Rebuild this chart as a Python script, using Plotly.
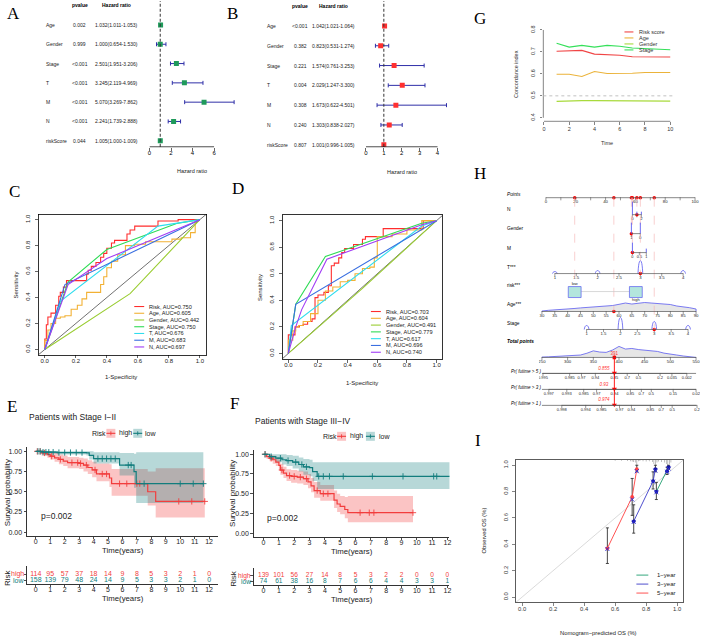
import numpy as np
import plotly.graph_objects as go

W, HGT = 708, 638
SANS = "Liberation Sans, Arial, Helvetica, sans-serif"
SERIF = "Liberation Serif, Times New Roman, serif"

# ======================= DATA =======================
# A / B : Cox regression forest plots
cox_vars = ["Age", "Gender", "Stage", "T", "M", "N", "riskScore"]
uni_pvalue = ["0.002", "0.999", "<0.001", "<0.001", "<0.001", "<0.001", "0.044"]
uni_hr = [1.032, 1.000, 2.501, 3.245, 5.070, 2.241, 1.005]
uni_low = [1.011, 0.654, 1.951, 2.119, 3.269, 1.739, 1.000]
uni_high = [1.053, 1.530, 3.206, 4.969, 7.862, 2.888, 1.009]
uni_ticks = [0, 2, 4, 6]
multi_pvalue = ["<0.001", "0.382", "0.221", "0.004", "0.308", "0.240", "0.807"]
multi_hr = [1.042, 0.823, 1.574, 2.029, 1.673, 1.303, 1.001]
multi_low = [1.021, 0.531, 0.761, 1.247, 0.622, 0.838, 0.996]
multi_high = [1.064, 1.274, 3.253, 3.300, 4.501, 2.027, 1.005]
multi_ticks = [0, 1, 2, 3, 4]

# G : concordance index over time
cindex_time = [1, 2, 3, 4, 5, 6, 7, 8, 9, 10]
cindex_risk = [0.703, 0.705, 0.707, 0.690, 0.687, 0.685, 0.678, 0.678, 0.678, 0.677]
cindex_age = [0.598, 0.598, 0.588, 0.611, 0.602, 0.602, 0.603, 0.606, 0.606, 0.606]
cindex_gender = [0.475, 0.478, 0.478, 0.478, 0.478, 0.478, 0.478, 0.478, 0.478, 0.476]
cindex_stage = [0.740, 0.722, 0.730, 0.722, 0.730, 0.726, 0.718, 0.715, 0.710, 0.710]
cindex_names = ["Risk score", "Age", "Gender", "Stage"]

# C : ROC curves (training)
c_risk_fpr = [0, 0.01, 0.02, 0.04, 0.07, 0.09, 0.10, 0.12, 0.14, 0.16, 0.27, 0.28, 0.30, 0.33, 0.36, 0.38, 0.40, 0.43, 0.45, 0.53, 0.55, 0.58, 0.73, 0.86, 0.98, 1.0]
c_risk_tpr = [0, 0.08, 0.19, 0.25, 0.28, 0.34, 0.41, 0.44, 0.48, 0.53, 0.53, 0.58, 0.61, 0.64, 0.67, 0.71, 0.74, 0.78, 0.82, 0.84, 0.89, 0.92, 0.95, 0.99, 1.0, 1.0]
c_age_fpr = [0, 0.02, 0.04, 0.07, 0.10, 0.13, 0.17, 0.21, 0.24, 0.27, 0.30, 0.36, 0.38, 0.40, 0.43, 0.47, 0.52, 0.58, 0.65, 0.74, 0.82, 0.88, 0.94, 0.97, 0.99, 1.0]
c_age_tpr = [0, 0.07, 0.15, 0.20, 0.24, 0.25, 0.26, 0.31, 0.34, 0.39, 0.44, 0.44, 0.50, 0.56, 0.63, 0.68, 0.73, 0.80, 0.81, 0.83, 0.83, 0.85, 0.86, 0.90, 0.99, 1.0]
c_gender_fpr = [0, 0.55, 1.0]
c_gender_tpr = [0, 0.43, 1.0]
c_stage_fpr = [0, 0.15, 0.40, 0.85, 1.0]
c_stage_tpr = [0, 0.52, 0.77, 0.97, 1.0]
c_t_fpr = [0, 0.10, 0.73, 1.0]
c_t_tpr = [0, 0.37, 0.95, 1.0]
c_m_fpr = [0, 0.13, 1.0]
c_m_tpr = [0, 0.50, 1.0]
c_n_fpr = [0, 0.15, 0.40, 1.0]
c_n_tpr = [0, 0.50, 0.70, 1.0]
c_auc = ["0.750", "0.605", "0.442", "0.750", "0.676", "0.683", "0.697"]

# D : ROC curves (validation)
d_risk_fpr = [0, 0.02, 0.045, 0.075, 0.10, 0.13, 0.16, 0.18, 0.20, 0.24, 0.27, 0.29, 0.31, 0.34, 0.36, 0.38, 0.44, 0.50, 0.52, 0.64, 0.73, 0.91, 1.0]
d_risk_tpr = [0, 0.14, 0.14, 0.20, 0.21, 0.22, 0.24, 0.26, 0.42, 0.44, 0.46, 0.51, 0.66, 0.68, 0.72, 0.76, 0.79, 0.82, 0.86, 0.88, 0.94, 0.94, 1.0]
d_age_fpr = [0, 0.03, 0.05, 0.07, 0.10, 0.15, 0.20, 0.25, 0.30, 0.35, 0.40, 0.45, 0.50, 0.55, 0.58, 0.60, 0.63, 0.70, 0.80, 0.90, 1.0]
d_age_tpr = [0, 0.10, 0.17, 0.20, 0.21, 0.24, 0.30, 0.40, 0.47, 0.50, 0.54, 0.55, 0.60, 0.64, 0.65, 0.72, 0.88, 0.88, 0.90, 0.93, 1.0]
d_gender_fpr = [0, 0.50, 1.0]
d_gender_tpr = [0, 0.49, 1.0]
d_stage_fpr = [0, 0.05, 0.25, 0.90, 1.0]
d_stage_tpr = [0, 0.37, 0.73, 0.98, 1.0]
d_t_fpr = [0, 0.02, 0.90, 1.0]
d_t_tpr = [0, 0.21, 0.96, 1.0]
d_m_fpr = [0, 0.05, 1.0]
d_m_tpr = [0, 0.37, 1.0]
d_n_fpr = [0, 0.05, 0.09, 0.26, 0.90, 1.0]
d_n_tpr = [0, 0.20, 0.33, 0.71, 0.97, 1.0]
d_auc = ["0.703", "0.604", "0.491", "0.779", "0.617", "0.696", "0.740"]
roc_names = ["Risk", "Age", "Gender", "Stage", "T", "M", "N"]

# E : KM Stage I-II
e_high_t = [0, 0.4, 0.8, 1.0, 1.3, 1.6, 1.9, 2.2, 3.0, 3.3, 3.6, 3.9, 4.2, 5.1, 5.25, 7.75, 8.3, 11.7]
e_high_s = [1, 0.98, 0.96, 0.94, 0.92, 0.90, 0.88, 0.86, 0.85, 0.83, 0.80, 0.77, 0.72, 0.67, 0.60, 0.50, 0.38, 0.38]
e_high_lo = [1, 0.95, 0.92, 0.90, 0.87, 0.84, 0.82, 0.79, 0.78, 0.75, 0.72, 0.68, 0.63, 0.56, 0.45, 0.33, 0.18, 0.18]
e_high_up = [1, 1, 1, 0.99, 0.98, 0.96, 0.95, 0.93, 0.92, 0.91, 0.89, 0.87, 0.85, 0.84, 0.78, 0.75, 0.79, 0.79]
e_low_t = [0, 0.5, 1.5, 3.5, 3.7, 4.0, 5.8, 6.8, 6.95, 11.6]
e_low_s = [1, 0.99, 0.985, 0.98, 0.95, 0.91, 0.83, 0.75, 0.60, 0.60]
e_low_lo = [1, 0.97, 0.96, 0.95, 0.90, 0.85, 0.70, 0.55, 0.36, 0.36]
e_low_up = [1, 1, 1, 1, 1, 0.99, 0.98, 0.97, 0.99, 0.99]
e_high_cens = [0.1, 0.3, 0.6, 1.1, 1.7, 2.5, 2.9, 3.1, 3.5, 4.1, 4.6, 4.9, 5.8, 6.3, 7.0, 7.2, 9.9, 10.8, 11.7]
e_low_cens = [0.15, 0.3, 0.5, 0.7, 0.9, 1.2, 1.6, 2.0, 2.4, 2.8, 3.2, 4.3, 4.6, 4.9, 5.2, 5.5, 6.4, 6.6, 7.5, 10.0, 10.9, 11.6]
e_risk_high = [114, 95, 57, 37, 18, 14, 9, 8, 5, 3, 2, 1, 0]
e_risk_low = [158, 139, 79, 48, 24, 14, 9, 5, 3, 3, 2, 1, 0]

# F : KM Stage III-IV
f_high_t = [0, 0.2, 0.4, 0.6, 0.8, 1.0, 1.1, 1.3, 1.5, 1.8, 2.2, 2.6, 2.9, 3.1, 3.3, 3.7, 4.6, 4.8, 5.0, 5.3, 5.5, 9.75]
f_high_s = [1, 0.97, 0.95, 0.93, 0.90, 0.86, 0.80, 0.76, 0.73, 0.72, 0.71, 0.69, 0.65, 0.60, 0.54, 0.50, 0.42, 0.37, 0.34, 0.30, 0.26, 0.26]
f_high_lo = [1, 0.94, 0.91, 0.88, 0.85, 0.80, 0.74, 0.70, 0.66, 0.64, 0.63, 0.61, 0.57, 0.52, 0.45, 0.41, 0.32, 0.27, 0.24, 0.19, 0.14, 0.14]
f_high_up = [1, 1, 0.99, 0.98, 0.96, 0.93, 0.88, 0.84, 0.81, 0.80, 0.79, 0.78, 0.75, 0.70, 0.65, 0.61, 0.54, 0.50, 0.47, 0.46, 0.47, 0.47]
f_low_t = [0, 0.4, 0.8, 1.2, 1.5, 1.9, 2.3, 2.6, 3.0, 3.2, 3.5, 12.3]
f_low_s = [1, 0.97, 0.95, 0.93, 0.92, 0.90, 0.87, 0.84, 0.83, 0.78, 0.72, 0.72]
f_low_lo = [1, 0.93, 0.90, 0.87, 0.85, 0.82, 0.78, 0.74, 0.72, 0.66, 0.56, 0.56]
f_low_up = [1, 1, 1, 1, 0.99, 0.98, 0.96, 0.94, 0.93, 0.90, 0.90, 0.90]
f_high_cens = [0.1, 0.5, 1.2, 1.7, 2.0, 2.4, 2.8, 3.5, 3.9, 4.2, 6.3, 6.9, 7.2, 9.75]
f_low_cens = [0.1, 0.5, 1.1, 1.6, 2.1, 2.5, 2.8, 3.6, 3.9, 4.3, 5.2, 7.1, 9.1, 11.1, 11.3]
f_risk_high = [139, 101, 56, 27, 14, 8, 5, 3, 2, 2, 0, 0, 0]
f_risk_low = [74, 61, 38, 16, 8, 7, 6, 6, 4, 4, 3, 3, 1]
km_years = list(range(13))

# H : nomogram
nomo_points_ticks = [0, 10, 20, 30, 40, 50, 60, 70, 80, 90, 100]
nomo_points_labels = ["0", "", "20", "", "40", "", "60", "", "80", "", "100"]
nomo_N_levels = [0, 1, 2]
nomo_N_labels = ["0", "", "2"]
nomo_N_freq = [13, 3, 3]
nomo_gender_levels = [1, 0]
nomo_gender_labels = ["1", "0"]
nomo_gender_freq = [11, 11]
nomo_M_levels = [0, 0.5, 1]
nomo_M_labels = ["0", "0.5", "1"]
nomo_M_freq = [10, 0, 4]
nomo_T_levels = [1, 1.5, 2, 2.5, 3, 3.5, 4]
nomo_T_labels = ["1", "1.5", "2", "2.5", "3", "3.5", "4"]
nomo_T_freq = [2, 0, 3, 0, 13, 0, 3]
nomo_age_ticks = [30, 35, 40, 45, 50, 55, 60, 65, 70, 75, 80, 85, 90]
nomo_age_grid = [30, 32.5, 35, 37.5, 40, 42.5, 45, 47.5, 50, 52.5, 55, 57.5, 60, 62.5, 65, 67.5, 70, 72.5, 75, 77.5, 80, 82.5, 85, 87.5, 90]
nomo_age_dens = [0.05, 0.12, 0.15, 0.22, 0.28, 0.3, 0.36, 0.4, 0.42, 0.5, 0.55, 0.6, 0.72, 0.85, 0.75, 0.8, 0.9, 0.85, 0.8, 0.72, 0.7, 0.55, 0.5, 0.38, 0.25]
nomo_stage_levels = [1, 1.5, 2, 2.5, 3, 3.5, 4]
nomo_stage_labels = ["1", "1.5", "2", "2.5", "3", "3.5", "4"]
nomo_stage_freq = [4, 0, 12, 0, 8, 0, 4]
nomo_total_ticks = [250, 300, 350, 400, 450, 500, 550]
nomo_total_grid = [250, 262.5, 275, 287.5, 300, 312.5, 325, 337.5, 350, 362.5, 375, 387.5, 400, 412.5, 425, 437.5, 450, 462.5, 475, 487.5, 500, 512.5, 525, 537.5, 550]
nomo_total_dens = [0.03, 0.05, 0.07, 0.09, 0.11, 0.14, 0.2, 0.35, 0.55, 0.45, 0.42, 0.62, 0.92, 0.7, 0.75, 0.66, 0.6, 0.55, 0.5, 0.36, 0.25, 0.2, 0.12, 0.08, 0.05]
nomo_pr5_at = [252, 304, 327, 354, 391, 416, 438, 480, 503, 532]
nomo_pr5_labels = ["0.995", "0.985", "0.97", "0.94", "0.85", "0.7", "0.5", "0.2", "0.035", "0.002"]
nomo_pr3_at = [263.5, 298.4, 331.3, 356.4, 391.3, 422.2, 443.5, 462.9, 505.5, 550]
nomo_pr3_labels = ["0.997", "0.993", "0.985", "0.97", "0.94", "0.85", "0.7", "0.5", "0.15", "0.02"]
nomo_pr1_at = [288.7, 335.2, 366.1, 401, 424.2, 461, 482.3, 503.5, 551.9]
nomo_pr1_labels = ["0.998", "0.994", "0.985", "0.97", "0.94", "0.85", "0.7", "0.5", "0.2"]
patient = dict(N=1, Gender=1, M=0, T=3, risk=0, Age=58, Stage=3, total=391)
patient_prob = ["0.855", "0.93", "0.974"]

# I : calibration
cal1_x = [0.866, 0.935, 0.945]; cal1_y = [0.800, 0.955, 0.985]
cal1_lo = [0.74, 0.93, 0.97]; cal1_hi = [0.87, 0.985, 1.0]
cal1_corr = [0.795, 0.950, 0.975]
cal3_x = [0.720, 0.845, 0.860]; cal3_y = [0.575, 0.880, 0.970]
cal3_lo = [0.485, 0.82, 0.95]; cal3_hi = [0.70, 0.95, 1.0]
cal3_corr = [0.570, 0.875, 0.960]
cal5_x = [0.550, 0.710, 0.740]; cal5_y = [0.370, 0.760, 0.970]
cal5_lo = [0.255, 0.62, 0.95]; cal5_hi = [0.525, 0.90, 1.0]
cal5_corr = [0.365, 0.740, 0.955]
rug_x = [0.60, 0.64, 0.68, 0.70, 0.71, 0.72, 0.73, 0.74, 0.75, 0.76, 0.78, 0.80, 0.82, 0.84, 0.85, 0.86, 0.87, 0.88, 0.90, 0.92, 0.93, 0.94, 0.95, 0.96]
rug_h = [0.005, 0.006, 0.008, 0.010, 0.012, 0.015, 0.020, 0.050, 0.010, 0.008, 0.010, 0.012, 0.010, 0.015, 0.030, 0.050, 0.020, 0.012, 0.015, 0.020, 0.030, 0.050, 0.030, 0.020]

# ======================= STYLE =======================
CI_BLUE = "#2F2FA8"
ROC_COLORS = ["#FF2D2D", "#F2B134", "#9ACD32", "#2FDB55", "#2FDDEE", "#3A6FE0", "#A03CF5"]
CIDX_COLORS = ["#F04545", "#EBB33A", "#A8DA3C", "#35E05A"]
KM_RED = "#F23D3D"
KM_TEAL = "#127D7D"
KM_RED_FILL = "rgba(242,61,61,0.3)"
KM_TEAL_FILL = "rgba(18,125,125,0.3)"
NOMO_BLUE = "#5A5AF0"
CAL_COLORS = ["#1E9E6E", "#3B3BC8", "#FF4040"]

fig = go.Figure()
ann = []
shp = []


def fx(x):
    return x / W


def fy(y):
    return 1 - y / HGT


def set_axes(n, x0, x1, y0, y1, xr, yr, xkw=None, ykw=None):
    s = "" if n == 1 else str(n)
    base = dict(showgrid=False, zeroline=False, showline=False, ticks="",
                showticklabels=False, fixedrange=True)
    xa = dict(base, domain=[fx(x0), fx(x1)], range=xr, anchor="y" + s)
    ya = dict(base, domain=[fy(y1), fy(y0)], range=yr, anchor="x" + s)
    xa.update(xkw or {})
    ya.update(ykw or {})
    fig.update_layout(**{"xaxis" + s: xa, "yaxis" + s: ya})
    return "x" + s, "y" + s


def note(x, y, text, size=6, color="black", xa="center", ya="middle", angle=0,
         family=SANS, xref="paper", yref="paper"):
    ann.append(dict(x=fx(x) if xref == "paper" else x, y=fy(y) if yref == "paper" else y,
                    xref=xref, yref=yref, text=text, showarrow=False, xanchor=xa,
                    yanchor=ya, textangle=angle, borderpad=0,
                    font=dict(size=size, color=color, family=family)))


def seg(x0, y0, x1, y1, color="black", width=0.8, dash="solid", xref="paper", yref="paper"):
    if xref == "paper":
        x0, x1 = fx(x0), fx(x1)
    if yref == "paper":
        y0, y1 = fy(y0), fy(y1)
    shp.append(dict(type="line", x0=x0, y0=y0, x1=x1, y1=y1, xref=xref, yref=yref,
                    line=dict(color=color, width=width, dash=dash)))


def rect(x0, y0, x1, y1, fill, line_color=None, xref="paper", yref="paper", lw=0.8):
    if xref == "paper":
        x0, x1 = fx(x0), fx(x1)
    if yref == "paper":
        y0, y1 = fy(y0), fy(y1)
    shp.append(dict(type="rect", x0=x0, y0=y0, x1=x1, y1=y1, xref=xref, yref=yref,
                    fillcolor=fill, line=dict(color=line_color or fill, width=lw if line_color else 0)))


def tickfont(size, color="black"):
    return dict(size=size, family=SANS, color=color)


# ---------------- panel letters ----------------
for letter, (lx, ly) in {"A": (12, 13), "B": (232, 13), "G": (481, 18), "C": (13, 191),
                         "D": (237, 188), "E": (10, 406), "F": (234, 403), "H": (481, 173),
                         "I": (479, 440)}.items():
    note(lx, ly, letter, size=17, family=SERIF)


# ---------------- A / B forest ----------------
def forest(n, hr, lo, hi, pv, ticks, color, x0px, unit, row0, step, axis_px, xmax_px,
           name_x, p_x, hr_x, head_y, title_xy):
    rows = list(range(len(hr)))
    yr = [(axis_px - row0) / step, (0 - row0) / step]
    xr = [0, (xmax_px - x0px) / unit]
    xa, ya = set_axes(n, x0px, xmax_px, 0, axis_px, xr, yr,
                      xkw=dict(ticks="outside", ticklen=3, tickwidth=0.6, tickcolor="black",
                               showticklabels=True, tickmode="array", tickvals=ticks,
                               ticklabelstandoff=-3, tickfont=tickfont(6)))
    hr_a, lo_a, hi_a = np.array(hr), np.array(lo), np.array(hi)
    seg(1, 0, 1, 1, color="#333", width=1.0, dash="3px,2px", xref=xa, yref=ya + " domain")
    seg(ticks[0], 0, ticks[-1], 0, xref=xa, yref=ya + " domain", width=0.7)
    fig.add_trace(go.Scatter(x=hr_a, y=rows, xaxis=xa, yaxis=ya, mode="markers",
                             marker=dict(symbol="square", size=5, color=color),
                             error_x=dict(type="data", symmetric=False, array=hi_a - hr_a,
                                          arrayminus=hr_a - lo_a, color=CI_BLUE,
                                          thickness=1, width=2)))
    for r, name, p, h, l, u in zip(rows, cox_vars, pv, hr, lo, hi):
        note(name_x, r, name, size=5, xa="left", yref=ya, color="#222")
        note(p_x, r, p, size=5, yref=ya, color="#222")
        note(hr_x, r, f"{h:.3f}({l:.3f}-{u:.3f})", size=5, yref=ya, color="#222")
    note(p_x, head_y, "<b>pvalue</b>", size=5)
    note(hr_x, head_y, "<b>Hazard ratio</b>", size=5)
    note(title_xy[0], title_xy[1], "Hazard ratio", size=5.5, color="#222")


forest(1, uni_hr, uni_low, uni_high, uni_pvalue, uni_ticks, "#1F9A5B",
       148.3, 10.83, 24, 19.33, 146, 236, 43, 78, 115, 4, (191, 170))
forest(2, multi_hr, multi_low, multi_high, multi_pvalue, multi_ticks, "#FF3030",
       366, 18, 25, 19.83, 146, 450, 265, 300, 333, 5, (402, 171))

# ---------------- G : C-index ----------------
xa, ya = set_axes(3, 544.4, 677, 25.5, 120.5, [-0.05, 10.39], [0.384, 0.816],
                  xkw=dict(ticks="outside", ticklen=2.5, tickwidth=0.6, tickcolor="#333",
                           showticklabels=True, tickvals=[0, 2, 4, 6, 8, 10],
                           tickfont=tickfont(5.5, "#333")),
                  ykw=dict(ticks="outside", ticklen=2.5, tickwidth=0.6, tickcolor="#333",
                           showticklabels=True, tickvals=[0.4, 0.5, 0.6, 0.7, 0.8],
                           ticktext=["0.4", "0.5", "0.6", "0.7", "0.8"], tickangle=-90,
                           ticklabelstandoff=3, tickfont=tickfont(5.5, "#333")))
seg(0, 0, 10, 0, color="#333", width=0.6, xref=xa, yref=ya + " domain")
seg(0, 0.4, 0, 0.8, color="#333", width=0.6, xref=xa + " domain", yref=ya)
seg(0, 0.5, 1, 0.5, color="#BBBBBB", width=0.9, dash="dot", xref=xa + " domain", yref=ya)
for vals, col in zip([cindex_risk, cindex_age, cindex_gender, cindex_stage], CIDX_COLORS):
    fig.add_trace(go.Scatter(x=cindex_time, y=vals, xaxis=xa, yaxis=ya, mode="lines",
                             line=dict(color=col, width=1.1)))
for i, (name, col) in enumerate(zip(cindex_names, CIDX_COLORS)):
    yy = 31 + 6 * i
    seg(626, yy, 635, yy, color=col, width=1.1)
    note(640, yy, name, size=5.5, xa="left", color="#333")
note(517, 73, "Concordance index", size=5.5, angle=-90, color="#333")
note(608, 142, "Time", size=5.5, color="#333")


# ---------------- C / D : ROC ----------------
def roc_panel(n, x0, x1, y0, y1, curves, aucs, leg_x, leg_y0, leg_dy, ylab, xlab):
    box = dict(showline=True, mirror=True, linecolor="black", linewidth=0.8,
               ticks="outside", ticklen=3, tickwidth=0.6, tickcolor="black",
               showticklabels=True, tickvals=[0, 0.2, 0.4, 0.6, 0.8, 1.0],
               ticktext=["0.0", "0.2", "0.4", "0.6", "0.8", "1.0"], tickfont=tickfont(6, "#222"))
    xa, ya = set_axes(n, x0, x1, y0, y1, [-0.04, 1.04], [-0.04, 1.04],
                      xkw=dict(box, ticklabelstandoff=-3),
                      ykw=dict(box, tickangle=-90, ticklabelstandoff=2))
    fig.add_trace(go.Scatter(x=[-0.04, 1.04], y=[-0.04, 1.04], xaxis=xa, yaxis=ya,
                             mode="lines", line=dict(color="#333", width=0.7)))
    for i, (fpr, tpr) in enumerate(curves):
        shape = "vh" if i in (0, 1) else "linear"
        fig.add_trace(go.Scatter(x=fpr, y=tpr, xaxis=xa, yaxis=ya, mode="lines",
                                 line=dict(color=ROC_COLORS[i], width=1.1, shape=shape)))
    for i, (name, auc) in enumerate(zip(roc_names, aucs)):
        yy = leg_y0 + leg_dy * i
        seg(leg_x, yy, leg_x + 10, yy, color=ROC_COLORS[i], width=1.1)
        note(leg_x + 14, yy, f"{name}, AUC={auc}", size=5.6, xa="left", color="#222")
    note(ylab[0], ylab[1], "Sensitivity", size=6, angle=-90, color="#222")
    note(xlab[0], xlab[1], "1-Specificity", size=6, color="#222")


roc_panel(4, 36.8, 205.2, 213.8, 354.2,
          [(c_risk_fpr, c_risk_tpr), (c_age_fpr, c_age_tpr), (c_gender_fpr, c_gender_tpr),
           (c_stage_fpr, c_stage_tpr), (c_t_fpr, c_t_tpr), (c_m_fpr, c_m_tpr), (c_n_fpr, c_n_tpr)],
          c_auc, 133, 306, 6.75, (14, 284), (120, 377))
roc_panel(5, 282, 443, 214.7, 358.3,
          [(d_risk_fpr, d_risk_tpr), (d_age_fpr, d_age_tpr), (d_gender_fpr, d_gender_tpr),
           (d_stage_fpr, d_stage_tpr), (d_t_fpr, d_t_tpr), (d_m_fpr, d_m_tpr), (d_n_fpr, d_n_tpr)],
          d_auc, 371, 311, 6.8, (259, 287), (362, 383))


# ---------------- E / F : Kaplan-Meier ----------------
def step_at(t, s, tc):
    idx = np.searchsorted(np.array(t), np.array(tc), side="right") - 1
    return list(np.array(s)[idx])


def km_panel(n, nt, x0, x1, y0, y1, xr, yr, ty0, ty1, tyr, groups, risk_high, risk_low,
             title, title_xy, leg, pval_xy, ylab_xy, xlab_y, tab_lab_x, risk_lab_xy, txlab_y,
             tab_font=7):
    axis_style = dict(showline=True, linecolor="black", linewidth=0.8, ticks="outside",
                      ticklen=2.5, tickwidth=0.7, tickcolor="black", showticklabels=True,
                      tickfont=tickfont(7, "#222"))
    xa, ya = set_axes(n, x0, x1, y0, y1, xr, yr,
                      xkw=dict(axis_style, tickvals=km_years, ticklabelstandoff=-4),
                      ykw=dict(axis_style, tickvals=[0, 0.25, 0.5, 0.75, 1.0],
                               ticktext=["0.00", "0.25", "0.50", "0.75", "1.00"]))
    for (t, s, lo, up, cens, col, fillc) in groups:
        fig.add_trace(go.Scatter(x=t, y=lo, xaxis=xa, yaxis=ya, mode="lines",
                                 line=dict(width=0, shape="hv", color=fillc)))
        fig.add_trace(go.Scatter(x=t, y=up, xaxis=xa, yaxis=ya, mode="lines", fill="tonexty",
                                 fillcolor=fillc, line=dict(width=0, shape="hv", color=fillc)))
    for (t, s, lo, up, cens, col, fillc) in groups:
        fig.add_trace(go.Scatter(x=t, y=s, xaxis=xa, yaxis=ya, mode="lines",
                                 line=dict(color=col, width=1.2, shape="hv")))
        fig.add_trace(go.Scatter(x=cens, y=step_at(t, s, cens), xaxis=xa, yaxis=ya,
                                 mode="markers", marker=dict(symbol="cross-thin", size=4.5,
                                                             line=dict(width=0.9, color=col))))
    txa, tya = set_axes(nt, x0, x1, ty0, ty1, xr, tyr,
                        xkw=dict(axis_style, tickvals=km_years, ticklabelstandoff=-4),
                        ykw=dict(showline=True, linecolor="black", linewidth=0.8, ticks="outside",
                                 ticklen=2.5, tickwidth=0.7, tickcolor="black", tickvals=[0, 1]))
    fig.add_trace(go.Scatter(x=km_years, y=[1] * len(km_years), xaxis=txa, yaxis=tya, mode="text",
                             text=[str(v) for v in risk_high],
                             textfont=dict(size=tab_font, color=KM_RED, family=SANS)))
    fig.add_trace(go.Scatter(x=km_years, y=[0] * len(km_years), xaxis=txa, yaxis=tya, mode="text",
                             text=[str(v) for v in risk_low],
                             textfont=dict(size=tab_font, color=KM_TEAL, family=SANS)))
    note(tab_lab_x, 1, "high", size=tab_font, color=KM_RED, xa="right", xref="paper", yref=tya)
    note(tab_lab_x, 0, "low", size=tab_font, color=KM_TEAL, xa="right", xref="paper", yref=tya)
    note(risk_lab_xy[0], risk_lab_xy[1], "Risk", size=8, angle=-90, color="#222")
    note(title_xy[0], title_xy[1], title, size=8.5, xa="left", color="#222")
    lx_risk, lx_b1, lx_high, lx_b2, lx_low, ly = leg
    note(lx_risk, ly, "Risk", size=7, xa="left", color="#222")
    for bx, col, fillc, lab_x, lab in [(lx_b1, KM_RED, KM_RED_FILL, lx_high, "high"),
                                       (lx_b2, KM_TEAL, KM_TEAL_FILL, lx_low, "low")]:
        rect(bx, ly - 4.5, bx + 9, ly + 4.5, fillc)
        seg(bx, ly, bx + 9, ly, color=col, width=1.1)
        seg(bx + 4.5, ly - 2, bx + 4.5, ly + 2, color=col, width=0.9)
        note(lab_x, ly, lab, size=7, xa="left", color="#222")
    note(pval_xy[0], pval_xy[1], "p=0.002", size=8.5, xa="left", color="#222")
    note(ylab_xy[0], ylab_xy[1], "Survival probability", size=8, angle=-90, color="#222")
    note((x0 + x1) / 2 + 0.5, xlab_y, "Time(years)", size=7.8, color="#222")
    note((x0 + x1) / 2 + 0.5, txlab_y, "Time(years)", size=7.8, color="#222")


km_panel(6, 7, 25, 217, 447, 536, [-0.62, 12.6], [-0.05, 1.05], 566, 584, [-0.67, 2.33],
         [(e_high_t, e_high_s, e_high_lo, e_high_up, e_high_cens, KM_RED, KM_RED_FILL),
          (e_low_t, e_low_s, e_low_lo, e_low_up, e_low_cens, KM_TEAL, KM_TEAL_FILL)],
         e_risk_high, e_risk_low, "Patients with Stage I\u2212II", (26, 417),
         (90, 105, 117, 132, 143, 433), (38, 516), (5, 492), 550, 23.5, (5, 577), 598.5)
km_panel(8, 9, 253, 450, 450, 537, [-0.65, 12.13], [-0.05, 1.05], 568, 585, [-0.583, 2.25],
         [(f_high_t, f_high_s, f_high_lo, f_high_up, f_high_cens, KM_RED, KM_RED_FILL),
          (f_low_t, f_low_s, f_low_lo, f_low_up, f_low_cens, KM_TEAL, KM_TEAL_FILL)],
         f_risk_high, f_risk_low, "Patients with Stage III\u2212IV", (253, 421),
         (322, 337, 349, 366, 378, 436), (266, 518), (232, 493), 551, 251.5, (232, 578), 599,
         tab_font=6.6)

# ---------------- H : nomogram ----------------
xa, ya = set_axes(10, 540, 702, 150, 420, [-4.667, 103.333], [420, 150])


def lin(v, v0, v1, p0, p1):
    return list(p0 + (np.asarray(v, float) - v0) * (p1 - p0) / (v1 - v0))


def total_to_pts(v):
    return lin(v, 250, 550, -2.67, 100.67)


def nomo_axis(pts, labels, axis_y, size=4.3, color="#555"):
    seg(min(pts), axis_y, max(pts), axis_y, color=color, width=0.7, xref=xa, yref=ya)
    fig.add_trace(go.Scatter(x=pts, y=[axis_y + 1.1] * len(pts), xaxis=xa, yaxis=ya, mode="markers",
                             marker=dict(symbol="line-ns", size=2.2, line=dict(width=0.6, color=color))))
    fig.add_trace(go.Scatter(x=pts, y=[axis_y + 4.2] * len(pts), xaxis=xa, yaxis=ya, mode="text",
                             text=labels, textfont=dict(size=size, color="#222", family=SANS)))


def nomo_bars(pts, freq, axis_y):
    for p, f in zip(pts, freq):
        if f > 0:
            seg(p, axis_y, p, axis_y - f, color=NOMO_BLUE, width=0.9, xref=xa, yref=ya)


def nomo_bumps(pts, freq, axis_y):
    for p, f in zip(pts, freq):
        if f > 0:
            fig.add_trace(go.Scatter(x=[p - 1.6, p - 1.2, p - 0.6, p, p + 0.6, p + 1.2, p + 1.6],
                                     y=[axis_y, axis_y - 0.6 * f, axis_y - 0.92 * f, axis_y - f,
                                        axis_y - 0.92 * f, axis_y - 0.6 * f, axis_y],
                                     xaxis=xa, yaxis=ya, mode="lines",
                                     line=dict(color=NOMO_BLUE, width=0.8, shape="spline")))


def nomo_density(pts, dens, axis_y, hmax):
    xs = [pts[0]] + list(pts) + [pts[-1]]
    ys = [axis_y] + [axis_y - d * hmax for d in dens] + [axis_y]
    fig.add_trace(go.Scatter(x=xs, y=ys, xaxis=xa, yaxis=ya, mode="lines", fill="toself",
                             fillcolor="#E6E6E6", line=dict(color=NOMO_BLUE, width=0.8)))


LBL_X = 507
note(LBL_X, 194, "<i>Points</i>", size=4.8, xa="left")
nomo_axis(nomo_points_ticks, nomo_points_labels, 197)
pN = lin(nomo_N_levels, 0, 2, 58, 64)
pG = lin(nomo_gender_levels, 1, 0, 57.3, 63.3)
pM = lin(nomo_M_levels, 0, 1, 58, 67.3)
pT = lin(nomo_T_levels, 1, 4, 6, 92)
pRisk = [19.3, 60.3]
pAgeT = lin(nomo_age_ticks, 30, 90, -2.67, 100.67)
pAgeG = lin(nomo_age_grid, 30, 90, -2.67, 100.67)
pS = lin(nomo_stage_levels, 1, 4, 27.3, 95.3)
pTotT = total_to_pts(nomo_total_ticks)
pTotG = total_to_pts(nomo_total_grid)

sel = {
    "N": (lin([patient["N"]], 0, 2, 58, 64)[0], 214),
    "Gender": (lin([patient["Gender"]], 1, 0, 57.3, 63.3)[0], 233),
    "M": (lin([patient["M"]], 0, 1, 58, 67.3)[0], 252),
    "T": (lin([patient["T"]], 1, 4, 6, 92)[0], 273),
    "risk": (pRisk[patient["risk"]], 291),
    "Age": (lin([patient["Age"]], 30, 90, -2.67, 100.67)[0], 311),
    "Stage": (lin([patient["Stage"]], 1, 4, 27.3, 95.3)[0], 329),
}
for key, (p, yy) in sel.items():
    seg(p, 197, p, yy, color="#F5B0B0", width=0.6, dash="dash", xref=xa, yref=ya)

note(LBL_X, 209, "N", size=4.8, xa="left")
nomo_bars(pN, nomo_N_freq, 214)
nomo_axis(pN, nomo_N_labels, 214)
note(LBL_X, 228, "Gender", size=4.8, xa="left")
nomo_bars(pG, nomo_gender_freq, 233)
nomo_axis(pG, nomo_gender_labels, 233)
note(LBL_X, 248, "M", size=4.8, xa="left")
nomo_bars(pM, nomo_M_freq, 252)
nomo_axis(pM, nomo_M_labels, 252, size=3.8)
note(LBL_X, 267, "T***", size=4.8, xa="left")
nomo_bumps(pT, nomo_T_freq, 273)
nomo_axis(pT, nomo_T_labels, 273)
note(LBL_X, 285, "risk***", size=4.8, xa="left")
seg(pRisk[0] + 4.3, 291, pRisk[1] - 4.3, 291, color="#C8C8C8", width=0.7, xref=xa, yref=ya)
for p in pRisk:
    rect(p - 4.3, 286, p + 4.3, 297, "#B3E6DD", NOMO_BLUE, xref=xa, yref=ya, lw=0.7)
fig.add_trace(go.Scatter(x=pRisk, y=[283, 299.5], xaxis=xa, yaxis=ya, mode="text",
                         text=["low", "high"], textfont=dict(size=4, color="#222", family=SANS)))
fig.add_trace(go.Scatter(x=[pRisk[1]], y=[291], xaxis=xa, yaxis=ya, mode="text", text=["-"],
                         textfont=dict(size=4, color="#444")))
note(LBL_X, 304, "Age***", size=4.8, xa="left")
nomo_density(pAgeG, nomo_age_dens, 311, 10)
nomo_axis(pAgeT, [str(v) for v in nomo_age_ticks], 311)
note(LBL_X, 323, "Stage", size=4.8, xa="left")
nomo_bumps(pS, nomo_stage_freq, 329)
nomo_axis(pS, nomo_stage_labels, 329)
note(LBL_X, 341, "<b><i>Total points</i></b>", size=4.8, xa="left")
nomo_density(pTotG, nomo_total_dens, 357, 12)
nomo_axis(pTotT, [str(v) for v in nomo_total_ticks], 357)
pr_rows = [(nomo_pr5_at, nomo_pr5_labels, 373, "Pr( futime > 5 )"),
           (nomo_pr3_at, nomo_pr3_labels, 389, "Pr( futime > 3 )"),
           (nomo_pr1_at, nomo_pr1_labels, 405, "Pr( futime > 1 )")]
for at, labs, yy, name in pr_rows:
    note(543, yy - 1.5, f"<i>{name}</i>", size=4.5, xa="right")
    seg(total_to_pts([250])[0], yy, total_to_pts([550])[0], yy, color="#555", width=0.7, xref=xa, yref=ya)
    nomo_axis(total_to_pts(at), labs, yy, size=4.0)

red_pts = [p for p, _ in sel.values()]
fig.add_trace(go.Scatter(x=red_pts, y=[197] * len(red_pts), xaxis=xa, yaxis=ya, mode="markers",
                         marker=dict(color="#FF0000", size=3.5)))
fig.add_trace(go.Scatter(x=red_pts, y=[yy for _, yy in sel.values()], xaxis=xa, yaxis=ya,
                         mode="markers", marker=dict(color="#FF0000", size=3.5)))
ptot = total_to_pts([patient["total"]])[0]
seg(ptot, 355, ptot, 405, color="#FF0000", width=0.9, xref=xa, yref=ya)
fig.add_trace(go.Scatter(x=[ptot], y=[357], xaxis=xa, yaxis=ya, mode="markers",
                         marker=dict(color="#FF0000", size=3.5, symbol="square")))
fig.add_trace(go.Scatter(x=[ptot] * 3, y=[yy - 0.5 for _, _, yy, _ in pr_rows], xaxis=xa, yaxis=ya,
                         mode="markers", marker=dict(color="#FF0000", size=4.5, symbol="triangle-down")))
fig.add_trace(go.Scatter(x=[ptot], y=[353.5], xaxis=xa, yaxis=ya, mode="text",
                         text=[str(patient["total"])],
                         textfont=dict(size=4.5, color="#FF3030", family=SANS)))
for (at, labs, yy, name), prob in zip(pr_rows, patient_prob):
    fig.add_trace(go.Scatter(x=[ptot - 7], y=[yy - 5], xaxis=xa, yaxis=ya, mode="text",
                             text=[f"<i>{prob}</i>"],
                             textfont=dict(size=4.5, color="#FF3030", family=SANS)))

# ---------------- I : calibration ----------------
box = dict(showline=True, mirror=True, linecolor="#333", linewidth=0.8, ticks="outside",
           ticklen=3, tickwidth=0.6, tickcolor="#333", showticklabels=True,
           tickvals=[0, 0.2, 0.4, 0.6, 0.8, 1.0], ticktext=["0.0", "0.2", "0.4", "0.6", "0.8", "1.0"],
           tickfont=tickfont(5.8, "#333"))
xa, ya = set_axes(11, 516.8, 685.2, 459.7, 602.3, [-0.04, 1.04], [-0.04, 1.04],
                  xkw=dict(box, ticklabelstandoff=-2),
                  ykw=dict(box, tickangle=-90, ticklabelstandoff=2))
fig.add_trace(go.Scatter(x=[-0.04, 1.04], y=[-0.04, 1.04], xaxis=xa, yaxis=ya, mode="lines",
                         line=dict(color="#D0D0D0", width=0.8)))
fig.add_trace(go.Bar(x=rug_x, y=[-h for h in rug_h], base=1.04, width=0.004, xaxis=xa, yaxis=ya,
                     marker=dict(color="#9A9A9A", line=dict(width=0))))
for cx, cy, clo, chi, corr, col in [(cal1_x, cal1_y, cal1_lo, cal1_hi, cal1_corr, CAL_COLORS[0]),
                                     (cal3_x, cal3_y, cal3_lo, cal3_hi, cal3_corr, CAL_COLORS[1]),
                                     (cal5_x, cal5_y, cal5_lo, cal5_hi, cal5_corr, CAL_COLORS[2])]:
    cy_a, lo_a, hi_a = np.array(cy), np.array(clo), np.array(chi)
    fig.add_trace(go.Scatter(x=cx, y=cy, xaxis=xa, yaxis=ya, mode="markers",
                             marker=dict(size=1, color="rgba(0,0,0,0)"),
                             error_y=dict(type="data", symmetric=False, array=hi_a - cy_a,
                                          arrayminus=cy_a - lo_a, color="#333", thickness=0.9, width=1.5)))
    fig.add_trace(go.Scatter(x=cx, y=cy, xaxis=xa, yaxis=ya, mode="lines+markers",
                             line=dict(color=col, width=0.9),
                             marker=dict(size=3.8, color=col if col == CAL_COLORS[2] else "#1515A0")))
    fig.add_trace(go.Scatter(x=cx, y=corr, xaxis=xa, yaxis=ya, mode="markers",
                             marker=dict(symbol="x-thin", size=4, line=dict(width=0.9, color="#2828D8"))))
for i, (lab, col) in enumerate(zip(["1\u2212year", "3\u2212year", "5\u2212year"], CAL_COLORS)):
    yy = 575 + 9 * i
    seg(638, yy, 650, yy, color=col, width=0.9)
    note(658, yy, lab, size=6, xa="left", color="#222")
note(600, 633, "Nomogram\u2212predicted OS (%)", size=5.8, color="#222")
note(485, 530, "Observed OS (%)", size=5.8, angle=-90, color="#222")

fig.update_layout(width=W, height=HGT, margin=dict(l=0, r=0, t=0, b=0), paper_bgcolor="white",
                  plot_bgcolor="white", showlegend=False, annotations=ann, shapes=shp,
                  font=dict(family=SANS))
fig.write_html("out.html", config={"displayModeBar": False, "staticPlot": True},
               post_script="document.body.style.margin='0px';document.body.style.padding='0px';document.body.style.overflow='hidden';")
